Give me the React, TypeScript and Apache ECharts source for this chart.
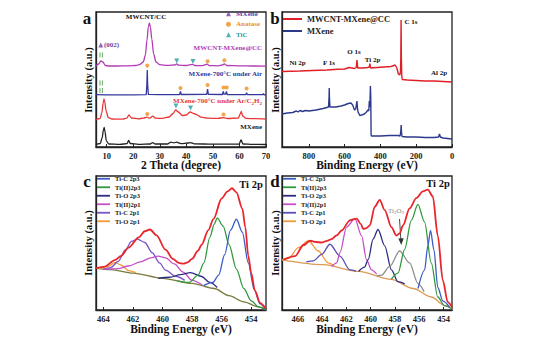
import React, { useEffect, useRef } from "react";
import * as echarts from "echarts";

const FONT = '"Liberation Serif", "Times New Roman", serif';

// ---------- Panel a : XRD ----------
const xrdTicks = [10, 20, 30, 40, 50, 60, 70];
const xrdMwcnt = [[6,81],[7,83],[7.8,86],[8.6,85],[9.5,81.5],[11,81],[14,81],[18,81.2],[21,81.5],[22.5,82.5],[23.8,85],[24.6,92],[25.2,107],[25.7,120],[26.1,124],[26.5,120],[27,108],[27.7,93],[28.6,85],[30,82.3],[33,81.6],[35.8,82],[36.4,83.2],[37,81.8],[40,81.5],[42.4,82.6],[43.2,81.5],[46,81.3],[47.9,82.8],[48.6,81.4],[52,81.2],[53.6,82],[54.3,83.2],[55.2,81.5],[60,81.2],[65,81],[70,80.8]];
const xrdAir = [[6,52.3],[10,52.2],[20,52.2],[24.9,52.4],[25.15,62],[25.3,77],[25.45,62],[25.7,52.6],[30,52.3],[37.5,52.5],[37.8,55.5],[38.1,52.5],[47.7,52.6],[48,58],[48.3,52.6],[53.6,52.5],[53.9,55.5],[54.2,52.8],[54.8,52.8],[55.1,55.5],[55.4,52.5],[62.4,52.4],[62.7,54.2],[63,52.3],[68.8,52.3],[69,53.5],[69.3,52.2],[70,52.1]];
const xrdAr = [[6,27.5],[7.5,28.5],[8.2,34],[8.7,44],[9.0,48],[9.3,45],[9.8,36],[10.6,29.5],[12,28],[16,27.8],[17.6,28.8],[18.4,32],[19.3,29],[22,28.2],[23.8,28.8],[25.2,29.8],[26.2,28.8],[27.4,30.8],[28.4,28.8],[31,28.6],[33.5,30],[35,33.5],[36,37],[37,35],[38.5,31.5],[40,32],[41.4,35],[42.8,33.5],[44,32.2],[45.5,29.8],[48,28.8],[52,28.6],[54,29.4],[55.5,28.5],[59.6,29],[60.3,33],[60.7,35.5],[61.2,31],[62.5,28.6],[66,28.3],[70,28]];
const xrdMxene = [[6,2.5],[7.6,3.5],[8.3,9],[8.8,17],[9.1,19.5],[9.4,15],[9.9,6],[10.8,3],[15,2.6],[17.7,3.4],[18.3,6.5],[18.9,3.5],[22,2.6],[26.5,3],[27.3,4.3],[28.2,3],[33,3],[34.2,4.8],[35.3,4.2],[36.3,4.8],[38,3.4],[40.6,4],[41.6,4.4],[43,3.2],[50,2.8],[59.9,3],[60.6,7],[61.3,3],[65,2.6],[70,2.5]];
const mxeneMarks = [[7.8,102]];
const anataseMarks = [[48,85.7],[54.3,86.7],[25.3,81.5],[37.8,59],[48,62],[54,59.5],[55.2,59.5],[62.7,58.5],[25.3,33],[54,32.5]];
const ticMarks = [[36.4,86],[42.5,85.5],[36.1,41],[41.6,39]];
const shiftMarks = [[7.5,92],[8.4,92],[7.5,64],[8.4,64],[7.5,56.5],[8.4,56.5]];

// ---------- Panel b : XPS survey ----------
const surveyTicks = [0, 200, 400, 600, 800];
const surveyComposite = [[950,75.5],[900,75.8],[850,76],[780,76.5],[700,77],[640,77.8],[600,78],[575,79.5],[560,79],[545,78.5],[535,79.5],[531,87],[527,79],[500,79],[470,79.5],[462,80],[459,83.5],[455,79],[420,79.5],[380,80],[340,80.5],[318,82],[308,79],[300,73],[292,72],[288,75],[286,90],[284.5,127],[283,90],[281,72],[278,67.5],[250,67],[200,66.5],[150,66],[100,66],[50,65.5],[0,65]];
const surveyMxene = [[950,33],[920,34],[890,34.5],[870,36],[860,35],[850,36.5],[835,35.5],[820,36.5],[800,36],[760,37],[720,38.5],[690,40],[687,50],[686,59],[685,50],[682,40],[650,40],[620,41],[600,42],[580,43.5],[565,44],[555,42],[545,37],[538,38],[533,44],[531,46],[529,40],[525,35],[515,31.5],[505,32],[490,33],[478,35],[470,37],[465,36],[462,46],[460,40],[458,46],[456,61],[454,50],[452,12],[450,11],[400,11],[350,11.5],[300,11.5],[290,11],[286,16],[284,22],[282,14],[279,10.5],[250,10],[200,10],[150,9.5],[100,9.5],[75,10],[70,13],[65,10],[50,9],[0,8]];

// ---------- Panel c : Ti 2p (composite) ----------
const cTicks = [454, 456, 458, 460, 462, 464];
const cEnvelope = [[464.5,45],[463.9,46.5],[463.2,53],[462.8,57],[462.3,65],[461.6,75],[461.2,81],[460.85,82.7],[460.4,77],[459.8,63],[459.3,54],[458.9,50],[458.6,49.3],[458.3,50.5],[458.0,54],[457.6,62],[457.35,68],[456.9,82],[456.55,93],[456.0,113],[455.6,120],[455.3,123],[455.0,119],[454.6,103],[454.4,85],[454.2,57],[454.0,40],[453.75,23],[453.4,11],[453.0,5]];
const cBackground = [[464.5,45],[463.5,43.5],[462,40],[460,35],[458,30],[456.5,25],[455.5,18],[454.5,12],[453.5,7],[453,4]];
const cTiC2p3 = [[457.2,28],[456.6,31],[456.2,38],[455.8,58],[455.4,82],[455.0,92.7],[454.6,80],[454.2,50],[453.8,24],[453.4,10],[453,4]];
const cTiII2p3 = [[459,32.5],[458.2,31],[457.6,38],[457.2,50],[456.8,75],[456.5,88],[456.3,94],[455.9,86],[455.5,68],[455.0,44],[454.5,25],[454.0,13],[453.5,7],[453,4]];
const cTiO2p3 = [[460.3,35],[459.5,36],[458.8,38.5],[458.1,40.5],[457.4,37],[456.8,31],[456.3,26]];
const cTiII2p1 = [[464,44],[463,44.5],[462.3,47],[461.5,51],[460.8,55],[460.3,56.7],[459.8,55],[459.2,49],[458.6,41],[458,33],[457.3,28.5]];
const cTiC2p1 = [[464,44],[463.5,45.5],[463,51.5],[462.5,63],[462.1,71],[461.7,73.3],[461.2,70],[460.7,60],[460.2,50],[459.8,43],[459.1,37],[458.5,33]];
const cTiO2p1 = [[464.3,44.5],[463.7,46.5],[463.2,50.5],[462.8,48],[462.3,42.5],[461.8,40.5]];

// ---------- Panel d : Ti 2p (MXene) ----------
const dTicks = [454, 456, 458, 460, 462, 464, 466];
const dEnvelope = [[467.18,53.3],[466.22,56.7],[465.54,67.3],[464.99,71.7],[464.5,70.5],[464.03,70],[463.6,71.5],[463.21,73.3],[462.8,77],[462.39,81.7],[461.71,91.7],[461.16,93.3],[460.8,88],[460.62,83.3],[460.35,84],[460.07,86.7],[459.66,105],[459.25,111.7],[458.84,101.7],[458.29,85],[457.88,76.7],[457.6,79],[457.34,86.7],[456.79,103.3],[456.24,113.3],[455.7,120],[455.29,121.7],[454.88,115],[454.47,76.7],[454.06,33.3],[453.65,11.7],[453.29,6.7]];
const dBackground = [[467.3,53],[463.9,48.3],[461.0,41.7],[458.3,34],[456.5,25],[455.0,16.7],[453.9,8.3],[453.3,5]];
const dTiC2p3 = [[456.1,25],[455.56,43],[455.29,66.7],[455.07,81.7],[454.79,63],[454.47,26],[454.06,13],[453.5,6.7]];
const dTiII2p3 = [[458.3,34],[457.75,40],[457.2,63.3],[456.65,91.7],[456.11,107.3],[455.56,90],[455.01,50],[454.47,16.7],[453.92,8.3],[453.3,5]];
const dTiO2p3 = [[461.0,41.7],[460.5,46],[460.2,53.3],[459.8,73.3],[459.39,82.7],[458.84,66.7],[458.29,43.3],[457.75,31.7],[457.2,29.5]];
const dTiII2p1 = [[463.2,46.5],[462.8,50],[462.53,60],[461.98,85],[461.3,93.3],[460.75,76.7],[460.34,53.3],[459.93,43.3],[459.5,39]];
const dTiC2p1 = [[465.3,51],[464.72,52],[464.03,58.3],[463.35,68.3],[462.53,56.7],[461.71,43.3],[461.2,42]];
const dTiO2p1 = [[467.3,53],[466.77,54.5],[465.95,65],[465.13,71.7],[464.31,61.7],[463.49,50],[463.0,47]];
const dTi2O3 = [[459.5,37],[459.11,38],[458.43,46.7],[457.61,61.7],[456.79,50],[456.11,30],[455.6,22]];

const componentNames = ["Ti-C 2p3", "Ti(II)2p3", "Ti-O 2p3", "Ti(II)2p1", "Ti-C 2p1", "Ti-O 2p1"];
const componentColors = ["#3c5cc4", "#2f9a3c", "#2c2c84", "#c64fc8", "#7a55c6", "#f29a3a"];

function line(name: string, data: number[][], idx: number, color: string, width = 1.3, smooth: number | boolean = 0.3, z = 2) {
  return {
    type: "line", name, data, xAxisIndex: idx, yAxisIndex: idx,
    showSymbol: false, symbol: "none", smooth, smoothMonotone: "x",
    lineStyle: { color, width }, itemStyle: { color }, z, silent: true,
  };
}

function txt(text: string, x: number, y: number, size: number, color = "#111", align = "center", extra: any = {}) {
  return {
    type: "text", x, y, silent: true, ...extra,
    style: { text, fill: color, fontSize: size, fontWeight: "bold", fontFamily: FONT, align, verticalAlign: "middle", ...(extra.style || {}) },
  };
}

function xAxis(idx: number, min: number, max: number, ticks: number[], inverse: boolean) {
  return {
    type: "value", gridIndex: idx, min, max, inverse,
    axisLine: { show: true, onZero: false, lineStyle: { color: "#222", width: 1.3 } },
    axisTick: { show: true, inside: true, length: 3, customValues: ticks, lineStyle: { color: "#222" } },
    axisLabel: { show: true, customValues: ticks, fontSize: 8.5, fontWeight: "bold", fontFamily: FONT, color: "#222", margin: 4 },
    splitLine: { show: false },
  };
}
function yAxis(idx: number, min: number, max: number) {
  return {
    type: "value", gridIndex: idx, min, max,
    axisLine: { show: true, onZero: false, lineStyle: { color: "#222", width: 1.3 } },
    axisTick: { show: false }, axisLabel: { show: false }, splitLine: { show: false },
  };
}

function compLegend(left: number, top: number, names: string[], colors: string[]) {
  return {
    orient: "vertical", left, top, padding: 0, itemGap: 1, itemWidth: 13, itemHeight: 1.8, icon: "rect",
    textStyle: { fontSize: 6.5, fontWeight: "bold", fontFamily: FONT, color: "#222", lineHeight: 7.5 },
    data: names.map((n, i) => ({ name: n, icon: "rect", itemStyle: { color: colors[i] } })),
    selectedMode: false,
  };
}

export default function App() {
  const ref = useRef<HTMLDivElement>(null);
  useEffect(() => {
    const chart = echarts.init(ref.current!, null, { renderer: "svg" });
    const grids = [
      { left: 96, top: 12, width: 170, height: 135 },
      { left: 282, top: 12, width: 170, height: 135 },
      { left: 96, top: 176, width: 170, height: 134 },
      { left: 282, top: 176, width: 170, height: 134 },
    ].map((g) => ({ ...g, show: true, borderColor: "#222", borderWidth: 1.3, backgroundColor: "transparent" }));

    const series: any[] = [
      line("MWCNT-MXene@CC a", xrdMwcnt, 0, "#b23cb4", 1.3, 0.3),
      line("Air", xrdAir, 0, "#34389c", 1.3, false),
      line("Ar", xrdAr, 0, "#e8383a", 1.3, 0.3),
      line("MXene a", xrdMxene, 0, "#222", 1.3, 0.3),
      { type: "scatter", name: "MXene phase", data: mxeneMarks, xAxisIndex: 0, yAxisIndex: 0, symbol: "triangle", symbolSize: 5, itemStyle: { color: "#6b3fa0" }, z: 5 },
      { type: "scatter", name: "Anatase", data: anataseMarks, xAxisIndex: 0, yAxisIndex: 0, symbol: "circle", symbolSize: 4, itemStyle: { color: "#ef8f1e" }, z: 5 },
      { type: "scatter", name: "TiC", data: ticMarks, xAxisIndex: 0, yAxisIndex: 0, symbol: "triangle", symbolRotate: 180, symbolSize: 5, itemStyle: { color: "#2a9d9d" }, z: 5 },
      { type: "scatter", name: "shift", data: shiftMarks, xAxisIndex: 0, yAxisIndex: 0, symbol: "rect", symbolSize: [1, 5], itemStyle: { color: "#3a9a3a" }, z: 5 },
      line("MWCNT-MXene@CC", surveyComposite, 1, "#e01e26", 1.4, false),
      line("MXene", surveyMxene, 1, "#2d3a8c", 1.4, false),
      line("bg c", cBackground, 2, "#7a7a3a", 1.3),
      line("Ti-O 2p1", cTiO2p1, 2, componentColors[5]),
      line("Ti-C 2p1", cTiC2p1, 2, componentColors[4]),
      line("Ti(II)2p1", cTiII2p1, 2, componentColors[3]),
      line("Ti-O 2p3", cTiO2p3, 2, componentColors[2]),
      line("Ti(II)2p3", cTiII2p3, 2, componentColors[1]),
      line("Ti-C 2p3", cTiC2p3, 2, componentColors[0]),
      line("env c", cEnvelope, 2, "#e8262b", 1.8, 0.3, 4),
      line("bg d", dBackground, 3, "#dc9a55", 1.3),
      line("Ti-O 2p1", dTiO2p1, 3, componentColors[5]),
      line("Ti-C 2p1", dTiC2p1, 3, "#5a4fb8"),
      line("Ti(II)2p1", dTiII2p1, 3, componentColors[3]),
      line("Ti-O 2p3", dTiO2p3, 3, componentColors[2]),
      line("Ti2O3", dTi2O3, 3, "#8c8c8c"),
      line("Ti(II)2p3", dTiII2p3, 3, componentColors[1]),
      line("Ti-C 2p3", dTiC2p3, 3, componentColors[0]),
      line("env d", dEnvelope, 3, "#e8262b", 1.8, 0.3, 4),
    ];

    const graphic: any[] = [
      txt("a", 87, 18, 17), txt("b", 275, 18, 17), txt("c", 87, 181, 17), txt("d", 275, 181, 17),
      txt("Intensity (a.u.)", 88, 80, 10.5, "#111", "center", { rotation: Math.PI / 2 }),
      txt("Intensity (a.u.)", 275, 80, 10.5, "#111", "center", { rotation: Math.PI / 2 }),
      txt("Intensity (a.u.)", 88, 243, 10.5, "#111", "center", { rotation: Math.PI / 2 }),
      txt("Intensity (a.u.)", 275, 243, 10.5, "#111", "center", { rotation: Math.PI / 2 }),
      txt("2 Theta (degree)", 181, 165, 11.5),
      txt("Binding Energy (eV)", 367, 165, 11.5),
      txt("Binding Energy (eV)", 181, 329, 11.5),
      txt("Binding Energy (eV)", 367, 329, 11.5),
      txt("MWCNT/CC", 146, 17, 7),
      txt("(002)", 104, 45, 7, "#6b3fa0", "left"),
      txt("MWCNT-MXene@CC", 262, 48, 7, "#b23cb4", "right"),
      txt("MXene-700°C under Air", 262, 74, 7, "#34389c", "right"),
      {
        type: "text", x: 262, y: 101, silent: true,
        style: {
          text: "{n|MXene-700°C under Ar/C}{s|2}{n|H}{s|2}", align: "right", verticalAlign: "middle",
          rich: {
            n: { fontSize: 7, fontWeight: "bold", fontFamily: FONT, fill: "#e8383a" },
            s: { fontSize: 5, fontWeight: "bold", fontFamily: FONT, fill: "#e8383a", padding: [4, 0, 0, 0] },
          },
        },
      },
      txt("MXene", 262, 127, 7, "#222", "right"),
      txt("Ni 2p", 297.5, 63, 7), txt("F 1s", 329, 63, 7), txt("O 1s", 354, 52, 7),
      txt("Ti 2p", 372.5, 60, 7), txt("C 1s", 411, 22, 7), txt("Al 2p", 439, 73, 7),
      txt("Ti 2p", 251, 184, 10.5), txt("Ti 2p", 438, 183, 10.5),
      {
        type: "text", x: 396, y: 211, silent: true,
        style: {
          text: "{n|Ti}{s|2}{n|O}{s|3}", align: "center", verticalAlign: "middle",
          rich: {
            n: { fontSize: 7, fontFamily: FONT, fill: "#888" },
            s: { fontSize: 5, fontFamily: FONT, fill: "#888", padding: [3, 0, 0, 0] },
          },
        },
      },
      { type: "line", silent: true, shape: { x1: 399.5, y1: 219, x2: 401, y2: 242 }, style: { stroke: "#333", lineWidth: 0.9 } },
      { type: "polygon", silent: true, shape: { points: [[398.3, 238.5], [403.7, 238.2], [401.3, 245]] }, style: { fill: "#333" } },
    ];

    const option: any = {
      animation: false,
      backgroundColor: "#fff",
      grid: grids,
      xAxis: [
        xAxis(0, 6, 70, xrdTicks, false),
        xAxis(1, 0, 950, surveyTicks, true),
        xAxis(2, 453, 464.5, cTicks, true),
        xAxis(3, 453.3, 467.3, dTicks, true),
      ],
      yAxis: [yAxis(0, 0, 135), yAxis(1, 0, 135), yAxis(2, 4, 135), yAxis(3, 4, 135)],
      legend: [
        {
          orient: "vertical", left: 226, top: 9, padding: 0, itemGap: 1, itemWidth: 5, itemHeight: 5, selectedMode: false,
          textStyle: { fontSize: 7, fontWeight: "bold", fontFamily: FONT, lineHeight: 9.5 },
          formatter: (n: string) => (n === "MXene phase" ? "MXene" : n),
          data: [
            { name: "MXene phase", textStyle: { color: "#6b3fa0" } },
            { name: "Anatase", textStyle: { color: "#ef8f1e" } },
            { name: "TiC", textStyle: { color: "#2a9d9d" } },
          ],
        },
        {
          orient: "vertical", left: 283, top: 14, padding: 0, itemGap: 2, itemWidth: 19, itemHeight: 2, icon: "rect", selectedMode: false,
          textStyle: { fontSize: 8.5, fontWeight: "bold", fontFamily: FONT, color: "#222", lineHeight: 10 },
          data: [
            { name: "MWCNT-MXene@CC", itemStyle: { color: "#e01e26" } },
            { name: "MXene", itemStyle: { color: "#2d3a8c" } },
          ],
        },
        compLegend(97, 175, componentNames, componentColors),
        compLegend(283, 175, componentNames, [componentColors[0], componentColors[1], componentColors[2], componentColors[3], "#5a4fb8", componentColors[5]]),
      ],
      series,
      graphic,
    };
    chart.setOption(option);
    return () => chart.dispose();
  }, []);
  return <div ref={ref} style={{ position: "absolute", left: 0, top: 0, width: 556, height: 338 }} />;
}
